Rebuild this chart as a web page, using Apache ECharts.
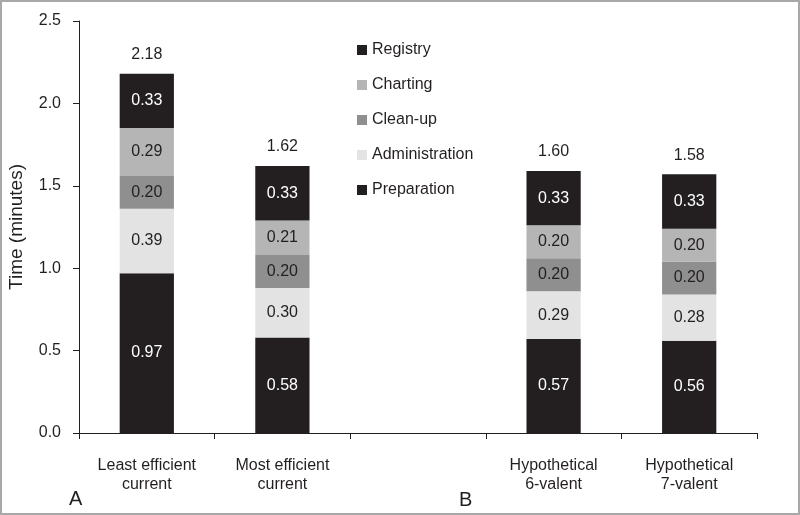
<!DOCTYPE html>
<html>
<head>
<meta charset="utf-8">
<script src="https://cdn.jsdelivr.net/npm/echarts@6/dist/echarts.min.js"></script>
<style>
  html, body { margin: 0; padding: 0; background: #fff; }
  #main { width: 800px; height: 515px; }
</style>
</head>
<body>
<div id="main"></div>
<script>
// categories (third slot is an empty spacer between panel A and B)
const categories = ['Least efficient\ncurrent', 'Most efficient\ncurrent', '', 'Hypothetical\n6-valent', 'Hypothetical\n7-valent']
const preparation = [0.97, 0.58, null, 0.57, 0.56]
const administration = [0.39, 0.30, null, 0.29, 0.28]
const cleanup = [0.20, 0.20, null, 0.20, 0.20]
const charting = [0.29, 0.21, null, 0.20, 0.20]
const registry = [0.33, 0.33, null, 0.33, 0.33]
const totals = ['2.18', '1.62', '', '1.60', '1.58']

const FONT = 'Liberation Sans, Arial, sans-serif'
const DARK = '#231f20'

var myChart = echarts.init(document.getElementById('main'))

const seg = (name, data, color, labelColor) => ({
  name: name,
  type: 'bar',
  stack: 'total',
  barWidth: '40%',
  data: data,
  itemStyle: { color: color },
  label: {
    show: true,
    position: 'inside',
    color: labelColor,
    fontFamily: FONT,
    fontSize: 16,
    formatter: p => p.value == null ? '' : p.value.toFixed(2)
  }
})

var option = {
  animation: false,
  textStyle: { fontFamily: FONT },
  grid: { left: 79, right: 43, top: 21, bottom: 82, containLabel: false, outerBoundsMode: 'none' },
  legend: {
    orient: 'vertical',
    left: 352,
    top: 37,
    itemWidth: 10,
    itemHeight: 10,
    itemGap: 19,
    icon: 'rect',
    data: ['Registry', 'Charting', 'Clean-up', 'Administration', 'Preparation'],
    textStyle: { fontFamily: FONT, fontSize: 16, color: DARK }
  },
  xAxis: {
    type: 'category',
    data: categories,
    axisLine: { lineStyle: { color: DARK, width: 1 } },
    axisTick: { show: true, interval: 0, length: 6, lineStyle: { color: DARK } },
    axisLabel: { interval: 0, color: DARK, fontSize: 16, lineHeight: 19, margin: 23, fontFamily: FONT }
  },
  yAxis: {
    type: 'value',
    min: 0,
    max: 2.5,
    interval: 0.5,
    name: 'Time (minutes)',
    nameLocation: 'middle',
    nameGap: 53,
    nameTextStyle: { color: DARK, fontSize: 19, fontFamily: FONT },
    splitLine: { show: false },
    axisLine: { show: true, lineStyle: { color: DARK } },
    axisTick: { show: true, length: 6, lineStyle: { color: DARK } },
    axisLabel: { color: DARK, fontSize: 16, margin: 18, fontFamily: FONT, formatter: v => v.toFixed(1) }
  },
  series: [
    seg('Preparation', preparation, DARK, '#fff'),
    seg('Administration', administration, '#e3e3e4', DARK),
    seg('Clean-up', cleanup, '#8f8f90', DARK),
    seg('Charting', charting, '#b5b5b6', DARK),
    seg('Registry', registry, DARK, '#fff'),
    // totals written above each stack
    {
      name: 'Total',
      type: 'bar',
      stack: 'total',
      barWidth: '40%',
      data: totals.map(t => t === '' ? null : 0),
      itemStyle: { color: 'transparent' },
      label: {
        show: true,
        position: 'top',
        distance: 11,
        color: DARK,
        fontSize: 16,
        fontFamily: FONT,
        formatter: p => totals[p.dataIndex]
      }
    }
  ],
  graphic: [
    { type: 'rect', shape: { x: 1, y: 1, width: 798, height: 513 }, style: { fill: 'none', stroke: '#a8a8a8', lineWidth: 2 } },
    { type: 'text', left: 69, top: 489, style: { text: 'A', fontSize: 20, fill: DARK, fontFamily: FONT } },
    { type: 'text', left: 459, top: 490, style: { text: 'B', fontSize: 20, fill: DARK, fontFamily: FONT } }
  ]
}

myChart.setOption(option)
</script>
</body>
</html>
